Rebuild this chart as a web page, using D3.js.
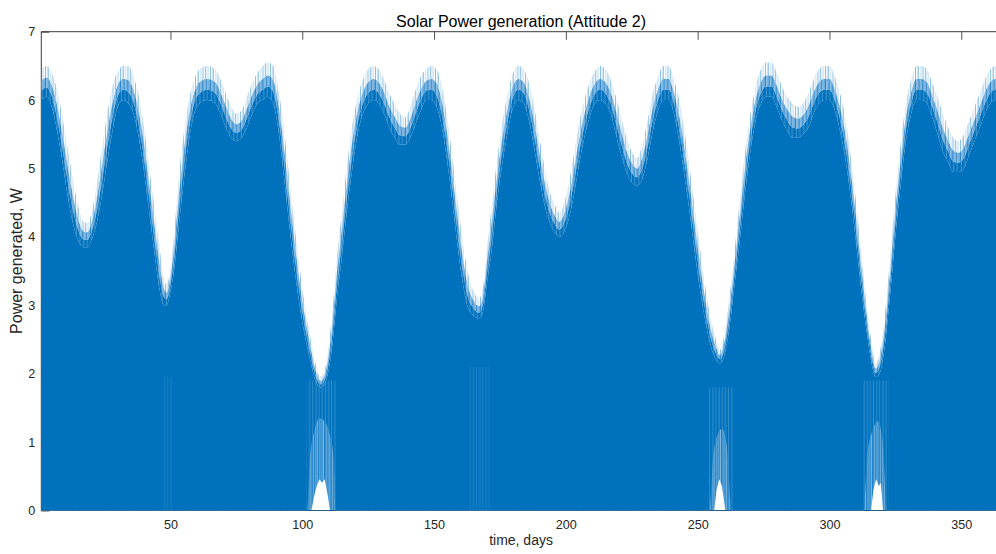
<!DOCTYPE html>
<html>
<head>
<meta charset="utf-8">
<script src="https://cdn.jsdelivr.net/npm/d3@7"></script>
<style>
  html, body { margin: 0; padding: 0; background: #fff; }
  svg { display: block; font-family: "Liberation Sans", Arial, Helvetica, sans-serif; }
</style>
</head>
<body>
<svg id="chart" width="996" height="554"></svg>
<script>
// Sample days of the envelope of the orbital power signal
const envDays = [1,3,5,7,9,11,13,15,17,18.5,20,22,24,26,28,30,32,34,36,38,40,42,44,46,47.5,48.5,50,51.5,53,55,57,59,61,64,67,69,71,73,75,77,79,81,83,85,87,89,91,93,95,97,99,101,103,105,107,108.5,110,111.5,113,115,117,119,121,123,125,127,129,131,133,135,137,139,141,143,145,147,149,151,153,155,157,159,161,163,165,167,168.5,170,172,174,176,178,180,182,184,186,188,190,192,194,196,197.5,199,201,203,205,207,209,211,213,215,217,219,221,223,225,227,229,231,233,235,237,239,241,243,245,247,249,251,253,255,257,258.5,260,262,264,266,268,270,272,274,276,278,280,282,284,286,288,290,292,294,296,298,300,302,304,306,308,310,312,314,316,317.5,319,321,323,325,327,329,331,333,335,337,339,341,343,345,347,349,351,353,355,357,359,361,363,365];

// Highest sampled orbital peak power (W)
const peakPower = [6.45,6.5,6.4,6.15,5.75,5.3,4.85,4.45,4.22,4.2,4.35,4.75,5.3,5.8,6.2,6.42,6.5,6.5,6.35,6.05,5.6,5.0,4.4,3.8,3.4,3.3,3.55,4.1,4.8,5.5,6.0,6.3,6.45,6.5,6.45,6.3,6.1,5.9,5.8,5.85,6.05,6.25,6.4,6.5,6.55,6.5,6.15,5.6,4.9,4.2,3.55,3.0,2.55,2.15,1.95,2.05,2.4,2.95,3.65,4.35,5.05,5.65,6.05,6.3,6.45,6.5,6.45,6.3,6.1,5.95,5.8,5.75,5.9,6.15,6.35,6.45,6.5,6.45,6.2,5.75,5.15,4.5,3.9,3.45,3.2,3.1,3.25,3.8,4.5,5.15,5.7,6.1,6.4,6.5,6.45,6.25,5.9,5.45,5.0,4.65,4.45,4.35,4.45,4.75,5.2,5.65,6.0,6.25,6.42,6.5,6.45,6.3,6.05,5.75,5.45,5.25,5.15,5.35,5.7,6.1,6.35,6.5,6.5,6.3,6.0,5.55,5.0,4.4,3.8,3.25,2.8,2.5,2.35,2.55,3.1,3.8,4.55,5.25,5.8,6.2,6.45,6.55,6.55,6.4,6.2,6.05,5.95,5.9,5.95,6.1,6.3,6.45,6.5,6.5,6.35,6.1,5.75,5.2,4.55,3.8,3.05,2.45,2.15,2.3,2.85,3.7,4.6,5.35,5.95,6.3,6.5,6.5,6.45,6.25,6.05,5.8,5.6,5.45,5.4,5.5,5.7,5.9,6.1,6.3,6.45,6.5,6.5];

// Level below which every orbit reaches the peak (dense part of the signal, W)
const densePower = [6.0,6.05,5.9,5.55,5.1,4.6,4.2,3.95,3.85,3.85,3.95,4.2,4.6,5.1,5.55,5.9,6.0,5.95,5.8,5.45,4.95,4.35,3.75,3.2,3.0,3.0,3.2,3.55,4.1,4.8,5.4,5.8,5.95,6.0,5.95,5.8,5.6,5.45,5.4,5.45,5.6,5.8,5.95,6.0,6.05,5.95,5.55,4.9,4.2,3.55,3.0,2.55,2.2,1.9,1.8,1.85,2.05,2.45,3.05,3.7,4.4,5.0,5.5,5.8,5.95,6.0,5.95,5.8,5.6,5.45,5.35,5.35,5.45,5.65,5.85,6.0,6.0,5.9,5.6,5.1,4.5,3.85,3.3,2.95,2.85,2.8,2.9,3.3,3.85,4.55,5.1,5.55,5.9,6.0,5.95,5.7,5.3,4.85,4.45,4.2,4.05,4.0,4.05,4.25,4.6,5.05,5.45,5.75,5.95,6.0,5.95,5.8,5.5,5.2,4.95,4.8,4.75,4.85,5.15,5.55,5.85,6.0,6.0,5.8,5.4,4.9,4.35,3.75,3.2,2.75,2.4,2.2,2.15,2.25,2.65,3.3,3.95,4.65,5.25,5.7,5.95,6.05,6.05,5.9,5.7,5.55,5.45,5.45,5.5,5.6,5.8,5.95,6.0,6.0,5.85,5.55,5.15,4.6,3.95,3.25,2.65,2.15,1.95,2.0,2.4,3.15,4.0,4.75,5.4,5.8,6.0,6.0,5.95,5.75,5.5,5.25,5.1,4.95,4.95,5.0,5.2,5.4,5.6,5.8,5.95,6.0,6.0];

// Minimum power during orbits with no eclipse (W)
const troughDays  = [1,103.5,104.5,105.5,106.5,107.5,108.5,109.5,110.5,256.3,257.2,258.2,259.2,260.5,315.8,316.7,317.7,318.7,319.5,320.3,365];
const troughPower = [0,0,0.2,0.35,0.45,0.4,0.45,0.25,0,0,0.3,0.45,0.35,0,0,0.3,0.45,0.35,0.4,0,0];

// Level reached by the partly sunlit samples inside those orbits (W)
const hazeDays  = [1,101.8,103,104.5,106.5,108.5,110.5,112,112.7,254.5,255.8,257.5,259.3,261.2,262.8,313,314.3,316.2,318.3,320.2,321.8,365];
const hazePower = [0,0,0.8,1.15,1.35,1.3,1.1,0.75,0,0,0.75,1.1,1.2,0.9,0,0,0.8,1.15,1.3,1.0,0,0];

// Eclipse-season windows where the orbital minimum lifts off zero
const windowStart = [47, 101.7, 163, 254.3, 312.9];
const windowEnd   = [50.6, 112.7, 171.3, 263.4, 322.4];
const windowTop   = [1.95, 1.9, 2.1, 1.8, 1.9];

const xTicks = [50, 100, 150, 200, 250, 300, 350];
const yTicks = [0, 1, 2, 3, 4, 5, 6, 7];

const BLUE = "#0072BD";
const AX = "#262626";

const svg = d3.select("#chart");
const x = d3.scaleLinear().domain([1, 365]).range([41.3, 1000.8]);
const y = d3.scaleLinear().domain([0, 7]).range([510.5, 31.7]);

const env = envDays.map((d, i) => ({ day: d, peak: peakPower[i], dense: densePower[i] }));
const trough = troughDays.map((d, i) => ({ day: d, v: troughPower[i] }));
const haze = hazeDays.map((d, i) => ({ day: d, v: hazePower[i] }));

// stripe patterns for the sparsely sampled orbit peaks
const defs = svg.append("defs");
function stripes(id, bg, lines, w) {
  const p = defs.append("pattern").attr("id", id)
    .attr("patternUnits", "userSpaceOnUse").attr("width", w).attr("height", 10);
  if (bg) p.append("rect").attr("width", w).attr("height", 10).attr("fill", bg);
  lines.forEach(([x0, lw, c, o]) => p.append("rect").attr("x", x0).attr("width", lw)
    .attr("height", 10).attr("fill", c).attr("opacity", o));
}
stripes("band1", null, [[0, 1, "#7db6e3", 0.9], [2.6, 1, "#4a97d4", 0.8], [5.2, 0.9, "#9cc8ea", 0.8]], 7.5);
stripes("band2", "#c4ddf1", [[0, 1.2, "#2f86ca", 1], [1.6, 1, "#6caee0", 1], [3.3, 1.2, "#1a7cc4", 1], [5.1, 1, "#5ea6dc", 1], [6.4, 0.6, "#0072BD", 1]], 7.5);
stripes("band3", BLUE, [[0.8, 1, "#4f9bd6", 0.9], [4.3, 0.9, "#6aaadd", 0.7]], 7.5);
stripes("winA", null, [[0.5, 1, "#5ea6dc", 0.8], [3.6, 0.8, "#7cb6e3", 0.7]], 6.3);
stripes("winB", null, [[0, 1, "#6aaee0", 1], [1.7, 1, "#a8cdea", 1], [3.1, 1.1, "#3c8fd0", 1], [4.8, 0.8, "#c9e0f2", 1]], 6.3);

// axes frame and ticks (under the data)
const gAx = svg.append("g").attr("stroke", AX).attr("stroke-width", 0.9);
gAx.append("line").attr("x1", x(1)).attr("x2", 1000.8).attr("y1", y(7)).attr("y2", y(7));
gAx.append("line").attr("x1", x(1)).attr("x2", x(1)).attr("y1", y(7)).attr("y2", y(0));
gAx.append("line").attr("x1", x(1)).attr("x2", 1000.8).attr("y1", y(0)).attr("y2", y(0));

const xAxis = d3.axisBottom(x).tickValues(xTicks).tickSize(-8).tickPadding(9.5).tickFormat(d3.format("d"));
const gx = svg.append("g").attr("transform", `translate(0,${y(0)})`).call(xAxis);
const xTop = d3.axisTop(x).tickValues(xTicks).tickSize(-8).tickFormat("");
const gxt = svg.append("g").attr("transform", `translate(0,${y(7)})`).call(xTop);
const yAxis = d3.axisLeft(y).tickValues(yTicks).tickSize(-8).tickPadding(6).tickFormat(d3.format("d"));
const gy = svg.append("g").attr("transform", `translate(${x(1)},0)`).call(yAxis);
[gx, gxt, gy].forEach(g => {
  g.select(".domain").remove();
  g.selectAll(".tick line").attr("stroke", AX).attr("stroke-width", 0.8);
  g.selectAll(".tick text").attr("fill", AX).style("font-size", "12.6px")
    .style("font-family", "'Liberation Sans', Arial, Helvetica, sans-serif");
});

// the power signal
const gData = svg.append("g");
const curve = d3.curveMonotoneX;
const lvl = t => d => y(d.dense + (d.peak - d.dense) * t);
const bandArea = (t0, t1) => d3.area().curve(curve).x(d => x(d.day)).y0(lvl(t0)).y1(lvl(t1));

gData.append("path").datum(env).attr("d", bandArea(0.62, 1)).attr("fill", "url(#band1)");
gData.append("path").datum(env).attr("d", bandArea(0.3, 0.62)).attr("fill", "url(#band2)");
gData.append("path").datum(env).attr("d", bandArea(0, 0.3)).attr("fill", "url(#band3)");
gData.append("path").datum(env)
  .attr("d", d3.area().curve(curve).x(d => x(d.day)).y0(y(0)).y1(d => y(d.dense)))
  .attr("fill", BLUE);

// orbits that do not go into eclipse
const windows = windowStart.map((s, i) => ({ s, e: windowEnd[i], top: windowTop[i] }));
gData.selectAll("rect.win").data(windows)
  .join("rect").attr("class", "win")
  .attr("x", d => x(d.s)).attr("width", d => x(d.e) - x(d.s))
  .attr("y", d => y(d.top)).attr("height", d => y(0) - y(d.top))
  .attr("fill", "url(#winA)")
  .attr("opacity", d => troughPower.some((v, j) => v > 0 && troughDays[j] >= d.s && troughDays[j] <= d.e) ? 0.7 : 0.35);

gData.append("path").datum(haze)
  .attr("d", d3.area().curve(curve).x(d => x(d.day)).y0(y(0) - 0.5).y1(d => y(d.v)))
  .attr("fill", "url(#winB)").attr("opacity", 0.8);
gData.append("path").datum(trough)
  .attr("d", d3.area().x(d => x(d.day)).y0(y(0) - 0.5).y1(d => y(d.v) - 0.5))
  .attr("fill", "#fff");

// titles
svg.append("text").attr("x", (x(1) + 1000.8) / 2).attr("y", 27).attr("text-anchor", "middle")
  .style("font-size", "16px").attr("fill", "#000").text("Solar Power generation (Attitude 2)");
svg.append("text").attr("x", (x(1) + 1000.8) / 2).attr("y", 545).attr("text-anchor", "middle")
  .style("font-size", "14px").attr("fill", AX).text("time, days");
svg.append("text").attr("transform", `translate(21.5,261) rotate(-90)`).attr("text-anchor", "middle")
  .style("font-size", "16px").attr("fill", AX).text("Power generated, W");
</script>
</body>
</html>
